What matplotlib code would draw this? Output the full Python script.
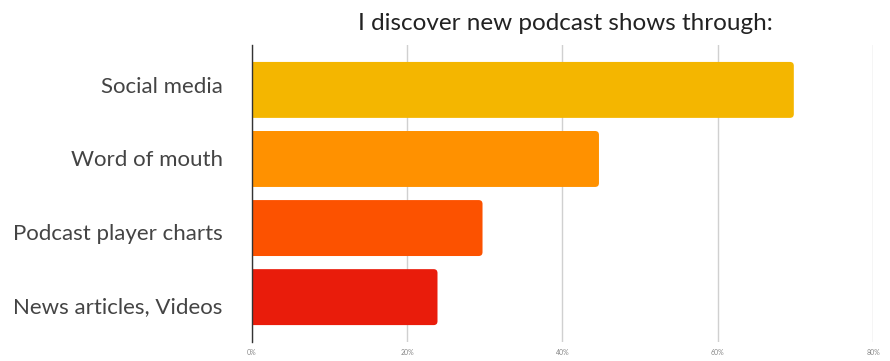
import matplotlib
matplotlib.use("Agg")
import matplotlib.pyplot as plt
from matplotlib.patches import FancyBboxPatch

# -----------------------------
# DATA
# -----------------------------
categories = ["Social media", "Word of mouth", "Podcast player charts", "News articles, Videos"]
shares = [69.8, 44.7, 29.7, 23.9]
bar_colors = ["#F4B600", "#FF9100", "#FC5200", "#E91C0B"]
xticks = [0, 20, 40, 60, 80]
xtick_labels = ["0%", "20%", "40%", "60%", "80%"]

plt.rcParams["font.family"] = ["Lato", "DejaVu Sans"]

# -----------------------------
# FIGURE
# -----------------------------
fig = plt.figure(figsize=(8.9, 3.61), dpi=100)
ax = fig.add_axes([0.2831, 0.0526, 0.6978, 0.8227])

ypos = list(range(len(categories)))
BAR_H = 0.81
ax.set_xlim(0, 80)
ax.set_ylim(3.65, -0.65)

# rounded bars: start left of zero so only the right end shows the rounding
px_per_x = ax.get_position().width * 890 / 80
px_per_y = ax.get_position().height * 361 / 4.3
for y, v, c in zip(ypos, shares, bar_colors):
    patch = FancyBboxPatch(
        (-1, y - BAR_H / 2), v + 1, BAR_H,
        boxstyle="round,pad=0,rounding_size=0.5",
        mutation_aspect=px_per_x / px_per_y,
        facecolor=c, edgecolor="none", zorder=3,
    )
    ax.add_patch(patch)

# category labels sit on a slightly wider spacing than the bars
mid = (len(categories) - 1) / 2
label_pos = [mid + (y - mid) * 1.06 + 0.02 for y in ypos]
ax.set_yticks(label_pos)
ax.set_yticklabels(categories, fontsize=16, color="#444444")
ax.tick_params(axis="y", length=0, pad=21)

ax.set_xticks(xticks)
ax.set_xticklabels(xtick_labels, fontsize=5, color="#888888")
ax.tick_params(axis="x", length=0, pad=5)

ax.grid(axis="x", color="#d0d0d0", linewidth=1, zorder=0)
ax.set_axisbelow(True)
for s in ["top", "right", "bottom"]:
    ax.spines[s].set_visible(False)
ax.spines["left"].set_color("#333333")
ax.spines["left"].set_linewidth(1)
ax.spines["left"].set_zorder(4)

fig.text(0.635, 0.935, "I discover new podcast shows through:",
         fontsize=17.5, color="#222222", ha="center", va="center")

fig.savefig("out.png", dpi=100)
